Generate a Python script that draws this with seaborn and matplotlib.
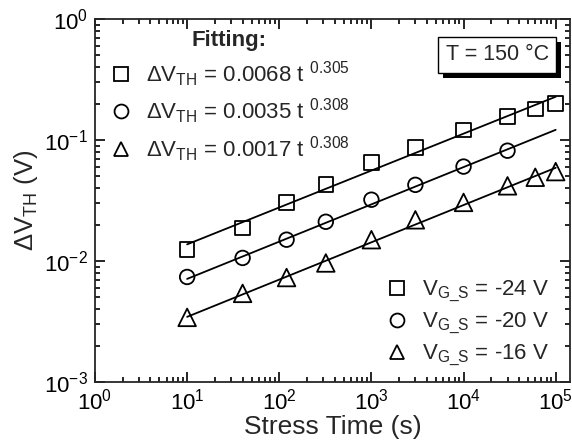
import numpy as np
import pandas as pd
import matplotlib
matplotlib.use("Agg")
import matplotlib.pyplot as plt
import matplotlib.patheffects as pe
from matplotlib.lines import Line2D
from matplotlib.ticker import LogLocator, NullFormatter
import seaborn as sns

# ---- data ----
t_24 = [10, 40, 120, 320, 1000, 3000, 10000, 30000, 60000, 100000]
v_24 = [0.0124, 0.0188, 0.0303, 0.0431, 0.0654, 0.0869, 0.121, 0.156, 0.180, 0.200]
t_20 = [10, 40, 120, 320, 1000, 3000, 10000, 30000]
v_20 = [0.00738, 0.0106, 0.0150, 0.0211, 0.0321, 0.0426, 0.0603, 0.0816]
t_16 = [10, 40, 120, 320, 1000, 3000, 10000, 30000, 60000, 100000]
v_16 = [0.00342, 0.0054, 0.0073, 0.00963, 0.0150, 0.0219, 0.0305, 0.0418, 0.0492, 0.0548]

fit_A = [0.0068, 0.0035, 0.0017]
fit_n = [0.305, 0.308, 0.308]
fit_t = [10, 100000]
series_labels = ["-24", "-20", "-16"]
markers = ["s", "o", "^"]

sns.set_theme(style="ticks")
plt.rcParams["font.family"] = ["Liberation Sans", "DejaVu Sans"]
plt.rcParams["mathtext.fontset"] = "custom"
plt.rcParams["mathtext.rm"] = "Liberation Sans"
plt.rcParams["mathtext.it"] = "Liberation Sans"
plt.rcParams["mathtext.bf"] = "Liberation Sans:bold"
plt.rcParams["axes.linewidth"] = 1.3

fig = plt.figure(figsize=(5.72, 4.48), dpi=100)
ax = fig.add_axes([95 / 572, 1 - 382 / 448, 475 / 572, 363 / 448])

data = [(t_24, v_24), (t_20, v_20), (t_16, v_16)]
for (tt, vv), A, n, m in zip(data, fit_A, fit_n, markers):
    ft = np.array(fit_t, dtype=float)
    sns.lineplot(x=ft, y=A * ft ** n, ax=ax, color="black", lw=1.3)
    sns.scatterplot(x=tt, y=vv, ax=ax, marker=m, s=110 if m != "^" else 160,
                    facecolors="none", edgecolor="black", linewidth=1.3, zorder=3)

ax.set_xscale("log")
ax.set_yscale("log")
ax.set_xlim(1, 1.43e5)
ax.set_ylim(1e-3, 1)
ax.xaxis.set_major_locator(LogLocator(base=10, numticks=10))
ax.yaxis.set_major_locator(LogLocator(base=10, numticks=10))
ax.xaxis.set_minor_locator(LogLocator(base=10, subs=np.arange(2, 10), numticks=20))
ax.yaxis.set_minor_locator(LogLocator(base=10, subs=np.arange(2, 10), numticks=20))
ax.xaxis.set_minor_formatter(NullFormatter())
ax.yaxis.set_minor_formatter(NullFormatter())
ax.tick_params(which="both", direction="in", top=True, right=True, width=1.2, colors="black")
ax.tick_params(which="major", length=7, labelsize=16, pad=5)
ax.tick_params(which="minor", length=3.5)

ax.set_xlabel("Stress Time (s)", fontsize=19, labelpad=0)
ax.set_ylabel(r"$\Delta$V$_{\mathregular{TH}}$ (V)", fontsize=18.5, labelpad=3)

# fitting legend
fit_handles = [Line2D([], [], ls="none", marker=m, markersize=10, mfc="none",
                      mec="black", mew=1.3) for m in markers]
fit_labels = [r"$\Delta$V$_{\mathregular{TH}}$ = %.4f t $^{%.3f}$" % (A, n)
              for A, n in zip(fit_A, fit_n)]
leg1 = ax.legend(fit_handles, fit_labels, loc="upper left", bbox_to_anchor=(-0.003, 1.012),
                 frameon=False, fontsize=16, title="Fitting:", handletextpad=0.55,
                 labelspacing=0.36, handlelength=1.1, borderaxespad=0.3)
leg1.get_title().set_fontweight("bold")
leg1.get_title().set_fontsize(16)
ax.add_artist(leg1)

vg_labels = [r"V$_{\mathregular{G\_S}}$ = %s V" % s for s in series_labels]
leg2 = ax.legend(fit_handles, vg_labels, loc="lower right", bbox_to_anchor=(0.99, -0.005),
                 frameon=False, fontsize=16, handletextpad=0.6, labelspacing=0.3,
                 handlelength=1.1, borderaxespad=0.3)

txt = ax.text(0.955, 0.902, "T = 150 °C", transform=ax.transAxes, ha="right", va="center",
              fontsize=15.5, bbox=dict(boxstyle="square,pad=0.35", fc="white", ec="black", lw=1.0))
txt.get_bbox_patch().set_path_effects([pe.SimplePatchShadow(offset=(3.6, -3.6), shadow_rgbFace="black", alpha=1.0), pe.Normal()])

fig.savefig("out.png", dpi=100)
